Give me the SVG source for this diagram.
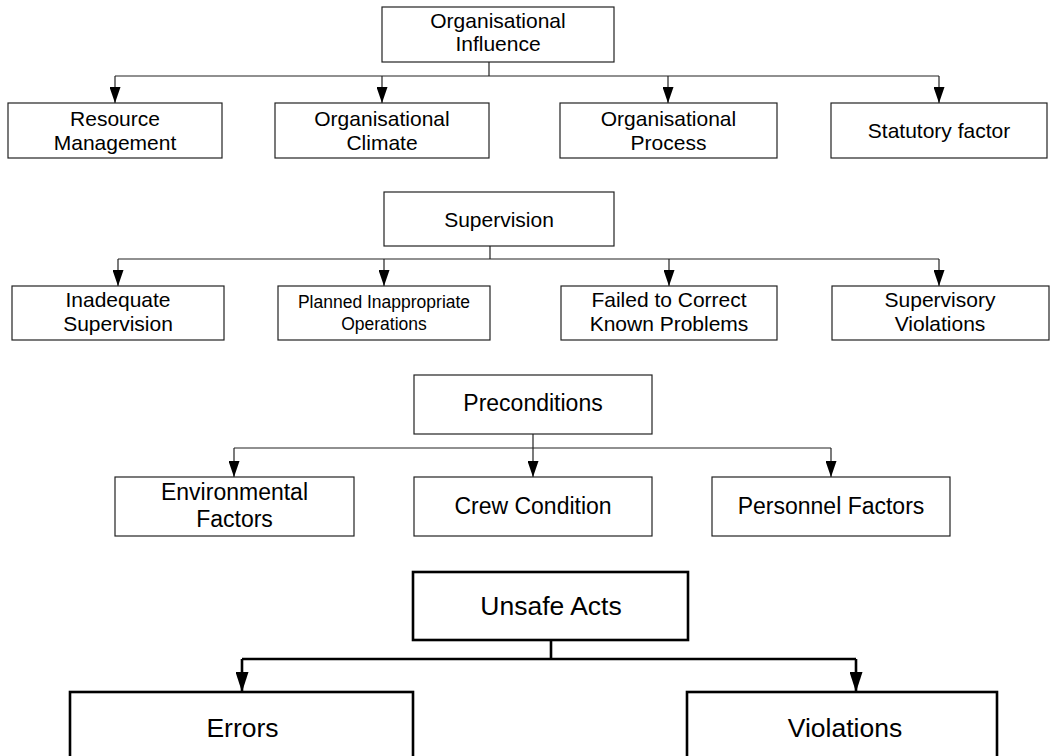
<svg xmlns="http://www.w3.org/2000/svg" width="1051" height="756" viewBox="0 0 1051 756">
<style>
.b{fill:#fff;stroke:#222;stroke-width:1.2}
.bb{fill:#fff;stroke:#000;stroke-width:2.6}
.t{font-family:"Liberation Sans",Arial,sans-serif;fill:#000;text-anchor:middle}
.f21{font-size:21px}
.f17{font-size:17.5px}
.f23{font-size:23px}
.f26{font-size:26.5px}
.c{fill:none;stroke:#222;stroke-width:1.2}
.cb{fill:none;stroke:#000;stroke-width:2.6}
</style>
<defs>
<marker id="a" markerUnits="userSpaceOnUse" markerWidth="16" markerHeight="11" viewBox="0 0 16 11" refX="16" refY="5.5" orient="auto"><path d="M0,0 L16,5.5 L0,11 z" fill="#000"/></marker>
<marker id="A" markerUnits="userSpaceOnUse" markerWidth="20" markerHeight="13" viewBox="0 0 20 13" refX="20" refY="6.5" orient="auto"><path d="M0,0 L20,6.5 L0,13 z" fill="#000"/></marker>
</defs>
<g id="connectors">
<path class="c" d="M489,62 V76 M115,76 H939"/>
<path class="c" marker-end="url(#a)" d="M115,76 V103"/>
<path class="c" marker-end="url(#a)" d="M382,76 V103"/>
<path class="c" marker-end="url(#a)" d="M668,76 V103"/>
<path class="c" marker-end="url(#a)" d="M939,76 V103"/>
<path class="c" d="M490,246 V259 M118,259 H939"/>
<path class="c" marker-end="url(#a)" d="M118,259 V286"/>
<path class="c" marker-end="url(#a)" d="M384,259 V286"/>
<path class="c" marker-end="url(#a)" d="M669,259 V286"/>
<path class="c" marker-end="url(#a)" d="M939,259 V286"/>
<path class="c" d="M234,448 H831"/>
<path class="c" marker-end="url(#a)" d="M234,448 V477"/>
<path class="c" marker-end="url(#a)" d="M533,434 V477"/>
<path class="c" marker-end="url(#a)" d="M831,448 V477"/>
<path class="cb" d="M551,640 V659 M242,659 H856"/>
<path class="cb" marker-end="url(#A)" d="M242,659 V692"/>
<path class="cb" marker-end="url(#A)" d="M856,659 V692"/>
</g>
<g id="n-org-influence"><rect class="b" x="382" y="7" width="232" height="55"/><text class="t f21" x="498" y="28">Organisational</text><text class="t f21" x="498" y="51">Influence</text></g>
<g id="n-resource"><rect class="b" x="8" y="103" width="214" height="55"/><text class="t f21" x="115" y="126">Resource</text><text class="t f21" x="115" y="150">Management</text></g>
<g id="n-climate"><rect class="b" x="275" y="103" width="214" height="55"/><text class="t f21" x="382" y="126">Organisational</text><text class="t f21" x="382" y="150">Climate</text></g>
<g id="n-process"><rect class="b" x="560" y="103" width="217" height="55"/><text class="t f21" x="668.5" y="126">Organisational</text><text class="t f21" x="668.5" y="150">Process</text></g>
<g id="n-statutory"><rect class="b" x="831" y="103" width="216" height="55"/><text class="t f21" x="939" y="138">Statutory factor</text></g>
<g id="n-supervision"><rect class="b" x="384" y="192" width="230" height="54"/><text class="t f21" x="499" y="227">Supervision</text></g>
<g id="n-inadequate"><rect class="b" x="12" y="286" width="212" height="54"/><text class="t f21" x="118" y="307">Inadequate</text><text class="t f21" x="118" y="331">Supervision</text></g>
<g id="n-planned"><rect class="b" x="278" y="286" width="212" height="54"/><text class="t f17" x="384" y="308">Planned Inappropriate</text><text class="t f17" x="384" y="330">Operations</text></g>
<g id="n-failed"><rect class="b" x="561" y="286" width="216" height="54"/><text class="t f21" x="669" y="307">Failed to Correct</text><text class="t f21" x="669" y="331">Known Problems</text></g>
<g id="n-supviol"><rect class="b" x="832" y="286" width="217" height="54"/><text class="t f21" x="940" y="307">Supervisory</text><text class="t f21" x="940" y="331">Violations</text></g>
<g id="n-preconditions"><rect class="b" x="414" y="375" width="238" height="59"/><text class="t f23" x="533" y="411">Preconditions</text></g>
<g id="n-environmental"><rect class="b" x="115" y="477" width="239" height="59"/><text class="t f23" x="234.5" y="500">Environmental</text><text class="t f23" x="234.5" y="527">Factors</text></g>
<g id="n-crew"><rect class="b" x="414" y="477" width="238" height="59"/><text class="t f23" x="533" y="514">Crew Condition</text></g>
<g id="n-personnel"><rect class="b" x="712" y="477" width="238" height="59"/><text class="t f23" x="831" y="514">Personnel Factors</text></g>
<g id="n-unsafe"><rect class="bb" x="413" y="572" width="275" height="68"/><text class="t f26" x="551" y="615">Unsafe Acts</text></g>
<g id="n-errors"><rect class="bb" x="70" y="692" width="343" height="90"/><text class="t f26" x="242.5" y="737">Errors</text></g>
<g id="n-violations"><rect class="bb" x="687" y="692" width="310" height="90"/><text class="t f26" x="845" y="737">Violations</text></g>
</svg>
